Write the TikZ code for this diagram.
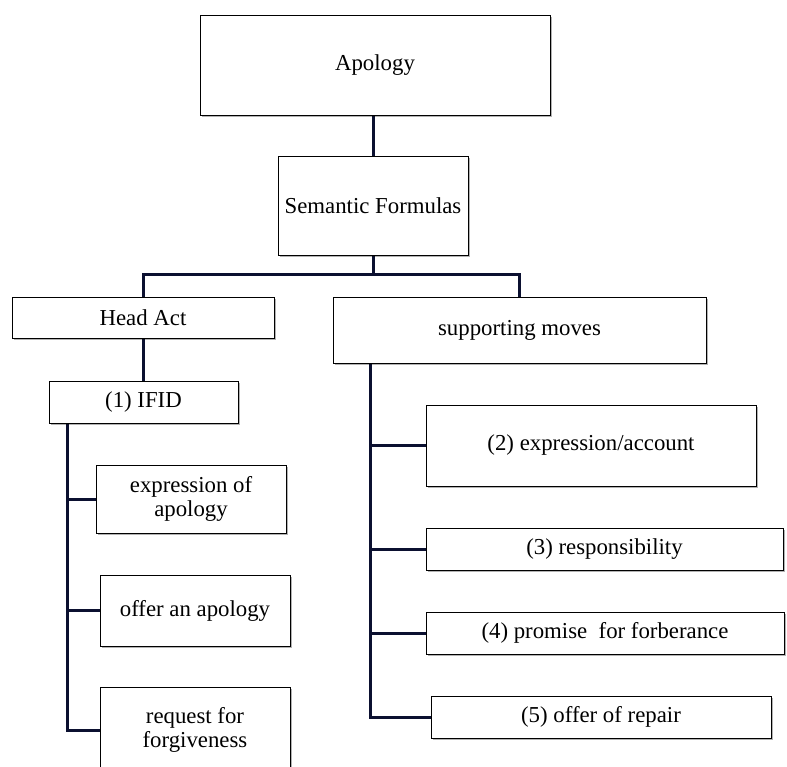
\documentclass[tikz,border=0pt]{standalone}
\usepackage{fontspec}
\setmainfont{Liberation Serif}
\usetikzlibrary{shadows,backgrounds}
\definecolor{navy}{HTML}{0B1030}
\begin{document}
\begin{tikzpicture}[x=1pt,y=-1pt,
  box/.style={draw=black, line width=0.9pt, fill=white, inner sep=0pt, align=center,
    font=\fontsize{22.8}{24}\selectfont,
    drop shadow={shadow xshift=1.5pt, shadow yshift=-2pt, fill=black, opacity=0.3}},
  conn/.style={draw=navy, line width=3pt},
  ttl/.style={inner sep=0pt, font=\fontsize{24}{24}\selectfont}]
\useasboundingbox (0,0) rectangle (787,767);
% cropped title (only its lowest sliver lies inside the picture)
\node[ttl, anchor=base east] (t1) at (370,-16) {Figure 1. The Semantic Formulas of};
\node[ttl, anchor=base west, font=\bfseries\fontsize{24}{24}\selectfont] (t2) at (375,-16) {Apologizing (Following Cohen, 1983)};
% boxes
\node[box, minimum width=350, minimum height=100] (apology) at (375,65) {Apology};
\node[box, minimum width=190, minimum height=99] (sem) at (373,205.5) {Semantic Formulas};
\node[box, minimum width=262, minimum height=41] (head) at (143,317.5) {Head Act};
\node[box, minimum width=373, minimum height=66] (supp) at (519.5,330) {supporting moves};
\node[box, minimum width=189, minimum height=42] (ifid) at (143.5,402) {(1) IFID};
\node[box, minimum width=190, minimum height=68] (expr) at (191,499) {expression of\\apology};
\node[box, minimum width=190, minimum height=71] (offer) at (195,610.5) {offer an apology};
\node[box, minimum width=190, minimum height=86] (req) at (195,730) {request for\\forgiveness};
\node[box, minimum width=330, minimum height=81] (acc) at (591,445.5) {(2) expression/account};
\node[box, minimum width=357, minimum height=42] (resp) at (604.5,549) {(3) responsibility};
\node[box, minimum width=358, minimum height=42] (prom) at (605,633) {(4) promise\ \ for forberance};
\node[box, minimum width=340, minimum height=42] (rep) at (601,717) {(5) offer of repair};
% connectors
\coordinate (bar) at (0,275);
\coordinate (lb) at (67,0);
\coordinate (rb) at (370,0);
\begin{scope}[on background layer]
\draw[conn] (sem.north |- apology.south) -- (sem.north);
\draw[conn] (sem.south) -- (sem.south |- bar);
\draw[conn] (head.north) |- (supp.north |- bar) -- (supp.north);
\draw[conn] (head.south) -- (head.south |- ifid.north);
\draw[conn] (lb |- ifid.south) -- (lb |- req.west) -- (req.west);
\draw[conn] (lb |- expr.west) -- (expr.west);
\draw[conn] (lb |- offer.west) -- (offer.west);
\draw[conn] (rb |- supp.south) -- (rb |- rep.west) -- (rep.west);
\draw[conn] (rb |- acc.west) -- (acc.west);
\draw[conn] (rb |- resp.west) -- (resp.west);
\draw[conn] (rb |- prom.west) -- (prom.west);
\end{scope}
\end{tikzpicture}
\end{document}
